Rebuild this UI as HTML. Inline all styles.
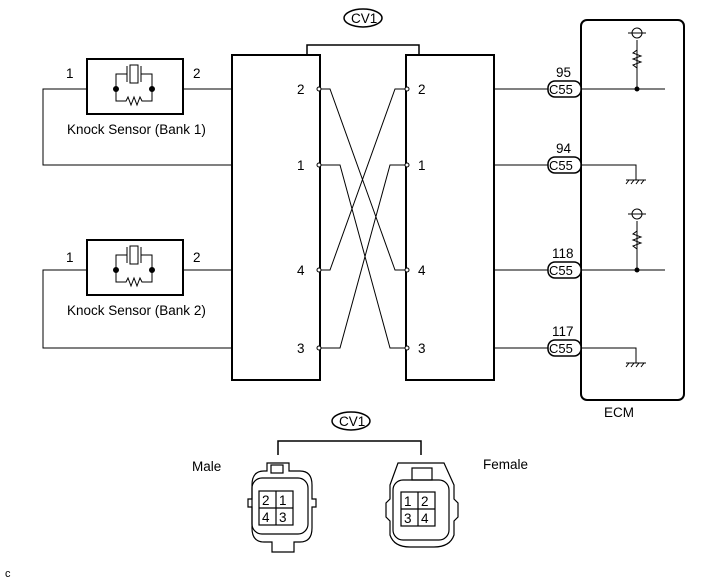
<!DOCTYPE html>
<html><head><style>body{margin:0;background:#fff}svg{display:block}</style></head><body>
<svg width="713" height="581" viewBox="0 0 713 581" font-family="Liberation Sans, sans-serif" font-size="13.5" fill="none" stroke="#000">
<g stroke-width="1">
<path d="M87 89H43V165H232M183 89H232"/>
<path d="M87 270H43V348H232M183 270H232"/>
</g>
<g stroke-width="2">
<rect x="87" y="59" width="96" height="55"/>
<rect x="87" y="240" width="96" height="55"/>
<rect x="232" y="55" width="88" height="325"/>
<rect x="406" y="55" width="88" height="325"/>
<rect x="581" y="20" width="103" height="380" rx="6"/>
</g>
<g id="s1" stroke-width="1">
<path d="M116 89V74H127M141 74H152V89M116 89V101H126l2-4 3 8 3-8 3 8 3-8 2 4H152V89"/>
<path d="M127 66V82M141 66V82"/><rect x="130" y="65" width="8" height="18"/>
<circle cx="116" cy="89" r="2.5" fill="#000"/><circle cx="152" cy="89" r="2.5" fill="#000"/>
</g>
<use href="#s1" y="181"/>
<g stroke-width="1">
<path d="M320 89H330L395 270H406M320 270H330L395 89H406M320 165H340L390 348H406M320 348H340L390 165H406"/>
<path d="M494 89H665M494 165H636V180M494 270H665M494 348H636V363"/>
<path d="M637 89V40M637 270V221"/>
<path d="M637 50l-4 3 8 3-8 3 8 3-8 3 4 3" fill="none"/>
<path d="M637 231l-4 3 8 3-8 3 8 3-8 3 4 3" fill="none"/>
<circle cx="637" cy="33" r="5" fill="#fff"/><path d="M628 33H646"/>
<circle cx="637" cy="214" r="5" fill="#fff"/><path d="M628 214H646"/>
<path d="M626 180H646M626 184l3-4M631 184l3-4M636 184l3-4M641 184l3-4"/>
<path d="M626 363H646M626 367l3-4M631 367l3-4M636 367l3-4M641 367l3-4"/>
</g>
<g fill="#000" stroke="none">
<circle cx="637" cy="89" r="2.5"/><circle cx="637" cy="270" r="2.5"/>
</g>
<g fill="#fff" stroke-width="1">
<circle cx="319" cy="89" r="2"/><circle cx="319" cy="165" r="2"/><circle cx="319" cy="270" r="2"/><circle cx="319" cy="348" r="2"/>
<circle cx="407" cy="89" r="2"/><circle cx="407" cy="165" r="2"/><circle cx="407" cy="270" r="2"/><circle cx="407" cy="348" r="2"/>
</g>
<g stroke-width="1.5" fill="#fff">
<rect x="548" y="81" width="33" height="16" rx="7"/>
<rect x="548" y="157" width="33" height="16" rx="7"/>
<rect x="548" y="262" width="33" height="16" rx="7"/>
<rect x="548" y="340" width="33" height="16" rx="7"/>
</g>
<path d="M307 55V45H419V55M278 455V441H421V455" stroke-width="1.5"/>
<ellipse cx="363" cy="18" rx="19" ry="9" stroke-width="1.5"/>
<ellipse cx="351" cy="421" rx="19" ry="9" stroke-width="1.5"/>
<g stroke-width="1.2">
<path d="M267 463h22v8h11q12 0 12 14v14h4v8h-4v21q0 14-12 14h-6v10h-22v-10h-8q-12 0-12-14v-21h-4v-8h4v-14q0-14 12-14h3z"/>
<rect x="252" y="478" width="56" height="56" rx="10"/>
<rect x="259" y="491" width="34" height="34"/><path d="M276 491V525M259 508H293"/>
<rect x="271" y="465" width="12" height="8"/>
<path d="M398 463h46l10 22v14l4 4v14l-4 4v14q-4 12-20 12h-24q-16 0-20-12v-14l-4-4v-14l4-4v-14z"/>
<rect x="393" y="480" width="56" height="60" rx="10"/>
<rect x="401" y="492" width="34" height="34"/><path d="M418 492V526M401 509H435"/>
<rect x="412" y="468" width="20" height="12"/>
</g>
<g fill="#000" stroke="none">
<text x="66" y="78">1</text><text x="193" y="78">2</text>
<text x="66" y="262">1</text><text x="193" y="262">2</text>
<text x="67" y="134">Knock Sensor (Bank 1)</text>
<text x="67" y="315">Knock Sensor (Bank 2)</text>
<text x="297" y="94">2</text><text x="297" y="170">1</text><text x="297" y="275">4</text><text x="297" y="353">3</text>
<text x="418" y="94">2</text><text x="418" y="170">1</text><text x="418" y="275">4</text><text x="418" y="353">3</text>
<text x="556" y="77">95</text><text x="556" y="153">94</text><text x="552" y="258">118</text><text x="552" y="336">117</text>
<g font-size="13"><text x="549" y="94">C55</text><text x="549" y="170">C55</text><text x="549" y="275">C55</text><text x="549" y="353">C55</text></g>
<text x="351" y="23">CV1</text><text x="339" y="426">CV1</text>
<text x="604" y="417">ECM</text>
<text x="192" y="471">Male</text><text x="483" y="469">Female</text>
<text x="262" y="505">2</text><text x="279" y="505">1</text><text x="262" y="522">4</text><text x="279" y="522">3</text>
<text x="404" y="506">1</text><text x="421" y="506">2</text><text x="404" y="523">3</text><text x="421" y="523">4</text>
<text x="5" y="577" font-size="11">c</text>
</g>
</svg>
</body></html>
